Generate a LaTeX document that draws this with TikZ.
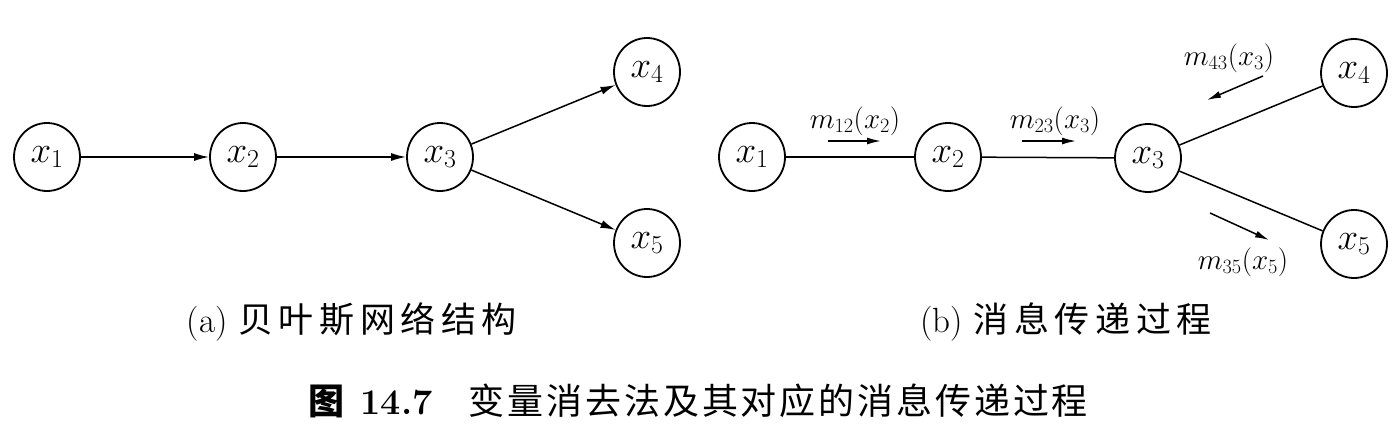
\RequirePackage{fix-cm}
\documentclass[tikz,border=0pt]{standalone}
\usepackage{fontspec}
\newfontfamily\cjk[LetterSpace=16]{Noto Sans CJK SC}
\newfontfamily\cjkt[LetterSpace=8]{Noto Sans CJK SC}
\usetikzlibrary{arrows.meta,shapes.geometric}
\tikzset{
  var/.style={draw, line width=1.8pt, ellipse, minimum width=66pt, minimum height=68pt, inner sep=0pt, font=\fontsize{37}{40}\selectfont},
  dirarrow/.style={line width=1.5pt, -{Latex[length=15pt,width=8pt]}},
  undedge/.style={line width=1.5pt},
  msg/.style={line width=1.5pt, -{Latex[length=14pt,width=7pt]}},
  lab/.style={font=\fontsize{29}{31}\selectfont, inner sep=0pt},
  captext/.style={font=\fontsize{35}{37}\selectfont, inner sep=0pt}
}
\begin{document}
\begin{tikzpicture}[x=1pt,y=-1pt]
\useasboundingbox (0,0) rectangle (1397,424);
% (a)
\node[var] (a1) at (47,157) {$x_1$};
\node[var] (a2) at (243,157) {$x_2$};
\node[var] (a3) at (440,157) {$x_3$};
\node[var] (a4) at (647,72) {$x_4$};
\node[var] (a5) at (647,243) {$x_5$};
\draw[dirarrow] (a1) -- (a2);
\draw[dirarrow] (a2) -- (a3);
\draw[dirarrow] (a3) -- (a4);
\draw[dirarrow] (a3) -- (a5);
% (b)
\node[var] (b1) at (752,157) {$x_1$};
\node[var] (b2) at (948,157) {$x_2$};
\node[var] (b3) at (1148,158) {$x_3$};
\node[var] (b4) at (1354,73) {$x_4$};
\node[var] (b5) at (1354,244) {$x_5$};
\draw[undedge] (b1) -- (b2);
\draw[undedge] (b2) -- (b3);
\draw[undedge] (b3) -- (b4);
\draw[undedge] (b3) -- (b5);
\node[lab] (m12) at (855,121) {$m_{12}(x_2)$};
\node[lab] (m23) at (1055,121) {$m_{23}(x_3)$};
\node[lab] (m43) at (1229,58) {$m_{43}(x_3)$};
\node[lab] (m35) at (1243,262) {$m_{35}(x_5)$};
\coordinate (p1s) at (828,141); \coordinate (p1e) at (881,141);
\coordinate (p2s) at (1022,141); \coordinate (p2e) at (1076,141);
\coordinate (p3s) at (1263,76); \coordinate (p3e) at (1207,100);
\coordinate (p4s) at (1210,213); \coordinate (p4e) at (1269,240);
\draw[msg] (p1s) -- (p1e);
\draw[msg] (p2s) -- (p2e);
\draw[msg] (p3s) -- (p3e);
\draw[msg] (p4s) -- (p4e);
% captions
\node[captext] (ca) at (352,322) {(a)\ {\cjk 贝叶斯网络结构}};
\node[captext] (cb) at (1066,322) {(b)\ {\cjk 消息传递过程}};
\node[font=\fontsize{36}{40}\selectfont, inner sep=0pt] (title) at (698,401) {{\cjk\bfseries 图}\ \textbf{14.7}\quad{\cjkt 变量消去法及其对应的消息传递过程}};
\end{tikzpicture}
\end{document}
